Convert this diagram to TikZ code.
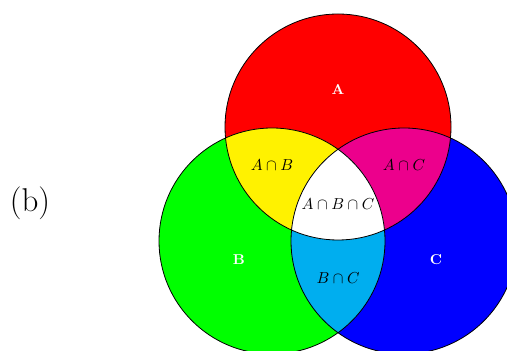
\documentclass[tikz,border=0pt]{standalone}
\usepackage{amsmath}
\definecolor{vred}{RGB}{255,0,0}
\definecolor{vgreen}{RGB}{0,255,0}
\definecolor{vblue}{RGB}{0,0,255}
\definecolor{vyellow}{RGB}{255,242,0}
\definecolor{vmagenta}{RGB}{236,0,140}
\definecolor{vcyan}{RGB}{0,174,239}
\tikzset{
  setlabel/.style={text=white,font=\small\bfseries},
  interlabel/.style={text=black},
  outline/.style={draw=black,line width=0.5pt}
}
\begin{document}
\begin{tikzpicture}[x=0.02212cm,y=-0.02212cm]
\useasboundingbox (0,0) rectangle (507,351);
\begin{scope}
\clip (0,0) rectangle (507,351);
\coordinate (cA) at (338,127);
\coordinate (cB) at (272,241);
\coordinate (cC) at (404,241);
\def\rr{113}
\fill[vred] (cA) circle[radius=\rr];
\fill[vgreen] (cB) circle[radius=\rr];
\fill[vblue] (cC) circle[radius=\rr];
\begin{scope}
  \clip (cA) circle[radius=\rr];
  \fill[vyellow] (cB) circle[radius=\rr];
  \fill[vmagenta] (cC) circle[radius=\rr];
\end{scope}
\begin{scope}
  \clip (cB) circle[radius=\rr];
  \fill[vcyan] (cC) circle[radius=\rr];
\end{scope}
\begin{scope}
  \clip (cA) circle[radius=\rr];
  \clip (cB) circle[radius=\rr];
  \fill[white] (cC) circle[radius=\rr];
\end{scope}
\draw[outline] (cA) circle[radius=\rr];
\draw[outline] (cB) circle[radius=\rr];
\draw[outline] (cC) circle[radius=\rr];
\end{scope}
\node[setlabel] (la) at (338,90) {A};
\node[setlabel] (lb) at (239,260) {B};
\node[setlabel] (lc) at (436,260) {C};
\node[interlabel] (lab) at (272,165) {$A\cap B$};
\node[interlabel] (lac) at (404,165) {$A\cap C$};
\node[interlabel] (labc) at (338,204) {$A\cap B\cap C$};
\node[interlabel] (lbc) at (338,278) {$B\cap C$};
\node[font=\huge] (lbl) at (30,203) {(b)};
\end{tikzpicture}
\end{document}
